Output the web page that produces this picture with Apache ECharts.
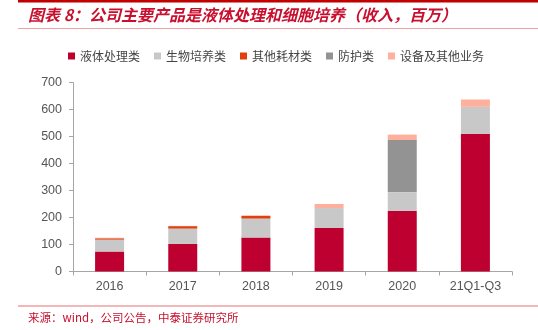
<!DOCTYPE html>
<html>
<head>
<meta charset="utf-8">
<script src="https://cdn.jsdelivr.net/npm/echarts@6/dist/echarts.min.js"></script>
<style>html,body{margin:0;padding:0;background:#fff}#c{width:538px;height:330px}</style>
</head>
<body>
<div id="c"></div>
<script>
const categories = ['2016', '2017', '2018', '2019', '2020', '21Q1-Q3'];
const liquid = [74, 102, 126, 161, 224, 510];
const cellCulture = [44, 57, 70, 74, 70, 100];
const otherConsumables = [5, 9, 10, 0, 0, 0];
const protective = [0, 0, 0, 0, 193, 0];
const otherBusiness = [2, 1, 2, 15, 20, 27];
const yTicks = [0, 100, 200, 300, 400, 500, 600, 700];

const seriesNames = ['液体处理类', '生物培养类', '其他耗材类', '防护类', '设备及其他业务'];
const seriesData = [liquid, cellCulture, otherConsumables, protective, otherBusiness];
const colors = ['#BE0030', '#C8C8C8', '#E0400F', '#939393', '#FFB09C'];
const sansFont = 'Arial, "Liberation Sans", sans-serif';

const chart = echarts.init(document.getElementById('c'));
chart.setOption({
  animation: false,
  color: colors,
  textStyle: { fontFamily: 'Noto Sans CJK SC' },
  grid: { left: 73, right: 26, top: 82.5, bottom: 58.5, containLabel: false },
  legend: {
    left: 63, top: 45,
    itemWidth: 7, itemHeight: 7, itemGap: 14,
    icon: 'rect',
    textStyle: { fontSize: 12, color: '#444', fontFamily: 'Noto Sans CJK SC' },
    data: seriesNames
  },
  xAxis: {
    type: 'category',
    data: categories,
    axisLine: { lineStyle: { color: '#A6A6A6', width: 1 } },
    axisTick: { show: true, length: 4, lineStyle: { color: '#A6A6A6' } },
    axisLabel: { fontSize: 12.5, color: '#555', margin: 9, fontFamily: sansFont }
  },
  yAxis: {
    type: 'value',
    min: yTicks[0], max: yTicks[yTicks.length - 1], interval: 100,
    splitLine: { show: false },
    axisLine: { show: true, lineStyle: { color: '#A6A6A6', width: 1 } },
    axisTick: { show: true, length: 4, lineStyle: { color: '#A6A6A6' } },
    axisLabel: { fontSize: 12.5, color: '#555', margin: 11, fontFamily: sansFont }
  },
  series: seriesNames.map((n, i) => ({
    name: n, type: 'bar', stack: 'total', barWidth: 29,
    data: seriesData[i],
    itemStyle: { color: colors[i] }
  })),
  graphic: [
    { type: 'rect', shape: { x: 18, y: 0, width: 520, height: 2.5 }, style: { fill: '#C00000' } },
    { type: 'text', left: 28, top: 7, style: { text: '图表 8：公司主要产品是液体处理和细胞培养（收入，百万）', fill: '#C8102E', font: 'italic bold 16px "Noto Sans CJK SC"' } },
    { type: 'rect', shape: { x: 18, y: 28, width: 520, height: 1 }, style: { fill: '#F0A0A0' } },
    { type: 'rect', shape: { x: 18, y: 305.5, width: 520, height: 1 }, style: { fill: '#E87070' } },
    { type: 'text', left: 28, top: 311.5, style: { text: '来源：wind，公司公告，中泰证券研究所', fill: '#C8102E', font: '11.5px "Noto Sans CJK SC"' } }
  ]
});
</script>
</body>
</html>
